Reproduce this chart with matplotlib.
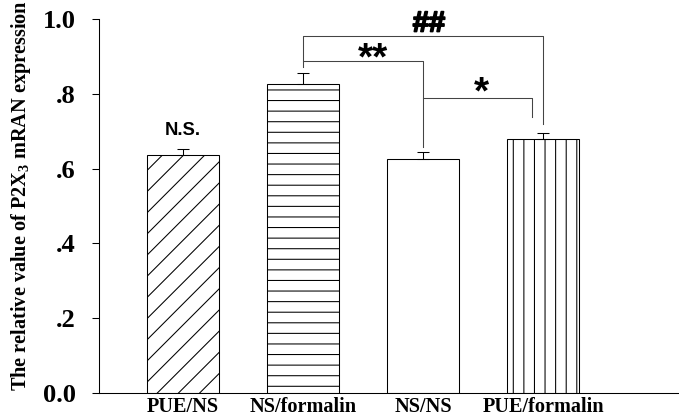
import numpy as np
import matplotlib
matplotlib.use('Agg')
import matplotlib.pyplot as plt
import matplotlib.patheffects as pe

# data
groups = ['PUE/NS', 'NS/formalin', 'NS/NS', 'PUE/formalin']
means = [0.636, 0.825, 0.626, 0.678]
errs = [0.016, 0.030, 0.018, 0.018]
hatches = ['//', '--', '', '||']
yticks = [0.0, 0.2, 0.4, 0.6, 0.8, 1.0]
ytick_labels = ['0.0', '.2', '.4', '.6', '.8', '1.0']

# comparisons: (x left, x right, bracket y, left leg bottom, right leg bottom, label, label x, label y)
comparisons = [
    (1, 3, 0.955, 0.889, 0.719, '##', 2.05, 0.988),
    (1, 2, 0.889, 0.872, 0.659, '**', 1.58, 0.893),
    (2, 2.91, 0.789, 0.789, 0.739, '*', 2.49, 0.80),
]

plt.rcParams['hatch.linewidth'] = 0.6
plt.rcParams['mathtext.fontset'] = 'custom'
plt.rcParams['mathtext.rm'] = 'Liberation Serif:bold'

dpi = 127
fig = plt.figure(figsize=(679 / dpi, 417 / dpi), dpi=dpi)
ax = fig.add_axes([99 / 679, 24 / 417, 580 / 679, 374 / 417])

x = np.arange(len(groups))
ax.bar(x, means, width=0.6, color='white', edgecolor='black', linewidth=0.6,
       hatch=hatches, zorder=2)
ax.errorbar(x, means, yerr=[np.zeros(len(errs)), errs], fmt='none',
            ecolor='black', elinewidth=0.6, capsize=3.4, capthick=0.6, zorder=3)

ax.set_xlim(-0.696, 4.13)
ax.set_ylim(0, 1.0)
ax.set_yticks(yticks)
ax.set_yticklabels(ytick_labels, fontfamily='Liberation Serif', fontweight='bold', fontsize=15)
ax.set_xticks(x)
ax.set_xticklabels(groups, fontfamily='Liberation Serif', fontweight='bold', fontsize=11.5)
ax.tick_params(axis='x', length=0, pad=2.5)
ax.tick_params(axis='y', length=4, width=0.6, pad=9, direction='out')
for s in ['top', 'right']:
    ax.spines[s].set_visible(False)
for s in ['left', 'bottom']:
    ax.spines[s].set_linewidth(0.6)

lc = '#444444'
for x0, x1, yb, l0, l1, lab, tx, ty in comparisons:
    ax.plot([x0, x0, x1, x1], [l0, yb, yb, l1], color=lc, lw=0.6, clip_on=False)
    fs = 16.5 if lab == '##' else 22
    t = ax.text(tx, ty, lab, ha='center', va='center', fontsize=fs,
                fontfamily='Liberation Sans', fontweight='bold', clip_on=False)
    if lab == '##':
        t.set_path_effects([pe.withStroke(linewidth=1.0, foreground='black')])

ax.text(0, 0.703, 'N.S.', ha='center', va='center', fontsize=10.5,
        fontfamily='Liberation Sans', fontweight='bold')

fig.text(21 / 679, (417 - 196) / 417, r'The relative value of P2X$_\mathregular{3}$ mRAN expression',
         rotation=90, ha='center', va='center', fontsize=11.5,
         fontfamily='Liberation Serif', fontweight='bold')

fig.savefig('out.png', dpi=dpi)
